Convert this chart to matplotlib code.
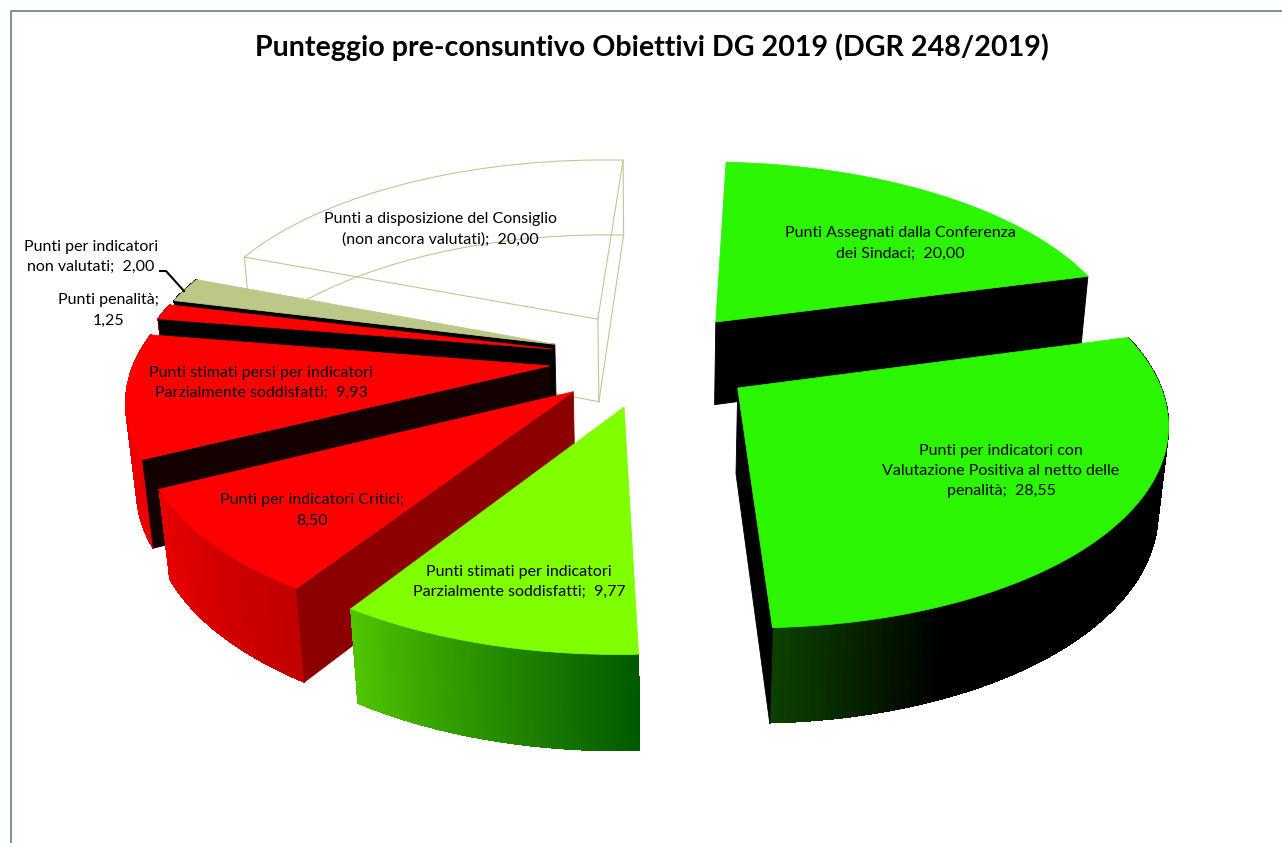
import numpy as np
import matplotlib
matplotlib.use("Agg")
import matplotlib.pyplot as plt
from matplotlib.colors import to_rgb

plt.rcParams["font.family"] = ["Lato", "DejaVu Sans"]

TITLE = "Punteggio pre-consuntivo Obiettivi DG 2019 (DGR 248/2019)"

# Slices run clockwise from the top of the pie
values = [20.00, 28.55, 9.77, 8.50, 9.93, 1.25, 2.00, 20.00]
names = [
    "Punti Assegnati dalla Conferenza\ndei Sindaci;",
    "Punti per indicatori con\nValutazione Positiva al netto delle\npenalità;",
    "Punti stimati per indicatori\nParzialmente soddisfatti;",
    "Punti per indicatori Critici;\n",
    "Punti stimati persi per indicatori\nParzialmente soddisfatti;",
    "Punti penalità;\n",
    "Punti per indicatori\nnon valutati;",
    "Punti a disposizione del Consiglio\n(non ancora valutati);",
]
label_xy = [(900, 243.5), (1001, 471), (519, 582), (312, 510.5),
            (261, 383), (108, 310.5), (91, 257), (440, 229)]
top_colors = ["#2CF500", "#2CF500", "#80FF00", "#FF0000",
              "#FF0000", "#FF0000", "#BBC887", None]
# Colour of the flat radial wall, and which edge of the slice carries it
wall_colors = ["#000000", "#000000", None, "#8C0000",
               "#140000", "#000000", "#000000", None]
wall_edges = ["end", "end", None, "start", "start", "start", "start", None]
# Rim shading as (fraction along the slice, colour)
rim_stops = [
    None,
    [(0, "#000000"), (0.8, "#000000"), (1, "#0C4000")],
    [(0, "#005A00"), (1, "#50C400")],
    [(0, "#C00000"), (1, "#E80000")],
    [(0, "#E80000"), (1, "#F00000")],
    [(0, "#D00000"), (1, "#D00000")],
    [(0, "#000000"), (1, "#000000")],
    None,
]

# Camera and pie geometry, in output pixels
ROTATION = 3.0
EXPLODE = 0.25
CX, CY = 652.5, 358.6
RX, RY = 414.0, 194.0
PERSP = 0.15
THICK_PX = 86.0
THICK_W = 0.02
WIRE = "#BEC894"


def project(x, y, bottom=False):
    w = 1 + PERSP * y + (THICK_W if bottom else 0)
    sx = CX + RX * x / w
    sy = CY - RY * y / w + (THICK_PX / w if bottom else 0)
    return sx, sy


def wedge_xy(a0, a1, n=160):
    # arc points of an exploded slice, angles in degrees clockwise from the top
    mid = np.radians((a0 + a1) / 2)
    ox, oy = EXPLODE * np.sin(mid), EXPLODE * np.cos(mid)
    t = np.radians(np.linspace(a0, a1, n))
    return ox, oy, ox + np.sin(t), oy + np.cos(t)


def mix_colors(stops, f):
    pos = [s[0] for s in stops]
    rgb = np.array([to_rgb(s[1]) for s in stops])
    return tuple(np.interp(f, pos, rgb[:, i]) for i in range(3))


def quad(ax, xs, ys, color, aa=True):
    ax.fill(xs, ys, facecolor=color, edgecolor=color, linewidth=0.6, antialiased=aa)


def draw_slice(ax, a0, a1, top, wall, edge, stops):
    ox, oy, ax_pts, ay_pts = wedge_xy(a0, a1)
    tx, ty = project(ax_pts, ay_pts)
    bx, by = project(ax_pts, ay_pts, bottom=True)
    apex_t = project(ox, oy)
    apex_b = project(ox, oy, bottom=True)

    if top is None:
        # empty slice: only its outline is drawn, underneath everything else
        lw = 0.8
        ax.plot(np.r_[apex_t[0], tx, apex_t[0]], np.r_[apex_t[1], ty, apex_t[1]], color=WIRE, lw=lw, zorder=0.5)
        ax.plot(np.r_[apex_b[0], bx, apex_b[0]], np.r_[apex_b[1], by, apex_b[1]], color=WIRE, lw=lw, zorder=0.5)
        for (p, q) in [(apex_t, apex_b), ((tx[0], ty[0]), (bx[0], by[0])), ((tx[-1], ty[-1]), (bx[-1], by[-1]))]:
            ax.plot([p[0], q[0]], [p[1], q[1]], color=WIRE, lw=lw, zorder=0.5)
        return

    if stops is not None:
        # the shaded rim is a strip of thin quads; no antialiasing so no seams show
        for i in range(len(tx) - 1):
            f = i / (len(tx) - 2)
            quad(ax, [tx[i], tx[i + 1], bx[i + 1], bx[i]],
                 [ty[i], ty[i + 1], by[i + 1], by[i]], mix_colors(stops, f), aa=False)

    if wall is not None:
        i = 0 if edge == "start" else -1
        quad(ax, [apex_t[0], tx[i], bx[i], apex_b[0]],
             [apex_t[1], ty[i], by[i], apex_b[1]], wall)

    quad(ax, np.r_[apex_t[0], tx], np.r_[apex_t[1], ty], top)


fig = plt.figure(figsize=(12.82, 8.43), dpi=100)
ax = fig.add_axes([0, 0, 1, 1])
ax.set_xlim(0, 1282)
ax.set_ylim(843, 0)
ax.axis("off")

# Chart area border, open on the right and at the bottom
ax.plot([11, 11, 1282], [843, 11, 11], color="#5F8080", lw=1.2)

total = sum(values)
edges = ROTATION + np.r_[0, np.cumsum(values)] / total * 360

# Back slices first so the front ones overlap them
for i in [7, 6, 5, 4, 3, 2, 0, 1]:
    draw_slice(ax, edges[i], edges[i + 1], top_colors[i], wall_colors[i], wall_edges[i], rim_stops[i])

ax.plot([160, 166, 184], [271, 271, 291], color="black", lw=1.5)

ax.text(652, 47, TITLE, ha="center", va="center", fontsize=20.6, fontweight="bold", color="black")

for name, val, (lx, ly) in zip(names, values, label_xy):
    sep = "" if name.endswith("\n") else "  "
    txt = name + sep + f"{val:.2f}".replace(".", ",")
    ax.text(lx, ly, txt, ha="center", va="center", fontsize=11.5, color="black", linespacing=1.56)

fig.savefig("out.png", dpi=100)
